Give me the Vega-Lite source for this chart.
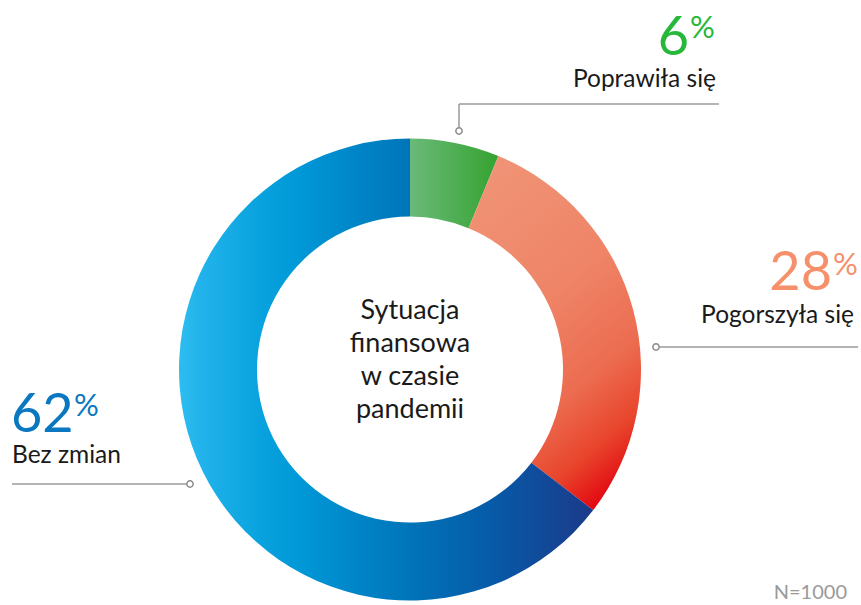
{
  "$schema": "https://vega.github.io/schema/vega-lite/v6.json",
  "width": 861,
  "height": 605,
  "padding": 0,
  "autosize": {"type": "none"},
  "background": "white",
  "config": {"view": {"stroke": null}, "font": "Lato", "text": {"font": "Lato"}},
  "data": {"values": [
    {"cat": "Poprawiła się", "value": 6},
    {"cat": "Pogorszyła się", "value": 28},
    {"cat": "Bez zmian", "value": 62}
  ]},
  "transform": [
    {"window": [{"op": "sum", "field": "value", "as": "v1"}], "frame": [null, 0]},
    {"calculate": "datum.v1 - datum.value", "as": "v0"}
  ],
  "layer": [
    {
      "transform": [{"filter": "datum.cat === 'Poprawiła się'"}],
      "mark": {"type": "arc", "radius": 231, "radius2": 153,
        "fill": {"gradient": "linear", "x1": 0, "y1": 0, "x2": 1, "y2": 0,
          "stops": [{"offset": 0, "color": "#6aba79"}, {"offset": 1, "color": "#35a330"}]}},
      "encoding": {
        "theta": {"field": "v0", "type": "quantitative", "scale": {"domain": [0, 96], "zero": true, "nice": false}},
        "theta2": {"field": "v1"},
        "x": {"datum": 410, "type": "quantitative", "scale": {"domain": [0, 861], "nice": false}, "axis": null},
        "y": {"datum": 369.5, "type": "quantitative", "scale": {"domain": [0, 605], "nice": false, "reverse": true}, "axis": null}
      }
    },
    {
      "transform": [{"filter": "datum.cat === 'Pogorszyła się'"}],
      "mark": {"type": "arc", "radius": 231, "radius2": 153,
        "fill": {"gradient": "linear", "x1": 0.3, "y1": 0, "x2": 0.7, "y2": 1,
          "stops": [{"offset": 0, "color": "#f09275"}, {"offset": 0.4, "color": "#ef8467"}, {"offset": 0.68, "color": "#ec6c50"}, {"offset": 0.86, "color": "#e8452c"}, {"offset": 1, "color": "#e30a12"}]}},
      "encoding": {
        "theta": {"field": "v0", "type": "quantitative", "scale": {"domain": [0, 96], "zero": true, "nice": false}},
        "theta2": {"field": "v1"},
        "x": {"datum": 410, "type": "quantitative", "scale": {"domain": [0, 861], "nice": false}, "axis": null},
        "y": {"datum": 369.5, "type": "quantitative", "scale": {"domain": [0, 605], "nice": false, "reverse": true}, "axis": null}
      }
    },
    {
      "transform": [{"filter": "datum.cat === 'Bez zmian'"}],
      "mark": {"type": "arc", "radius": 231, "radius2": 153,
        "fill": {"gradient": "linear", "x1": 0, "y1": 0, "x2": 1, "y2": 0,
          "stops": [{"offset": 0, "color": "#2dbdf0"}, {"offset": 0.05, "color": "#22b3eb"}, {"offset": 0.2, "color": "#08a2de"}, {"offset": 0.29, "color": "#0098d7"}, {"offset": 0.56, "color": "#0074b9"}, {"offset": 0.78, "color": "#0857a5"}, {"offset": 1, "color": "#1c3a8a"}]}},
      "encoding": {
        "theta": {"field": "v0", "type": "quantitative", "scale": {"domain": [0, 96], "zero": true, "nice": false}},
        "theta2": {"field": "v1"},
        "x": {"datum": 410, "type": "quantitative", "scale": {"domain": [0, 861], "nice": false}, "axis": null},
        "y": {"datum": 369.5, "type": "quantitative", "scale": {"domain": [0, 605], "nice": false, "reverse": true}, "axis": null}
      }
    },
    {
      "transform": [{"filter": "datum.cat === 'Bez zmian'"}],
      "mark": {"type": "text", "align": "center", "baseline": "middle", "fontSize": 27, "lineHeight": 33, "color": "#1a1a1a"},
      "encoding": {
        "text": {"value": ["Sytuacja", "finansowa", "w czasie", "pandemii"]},
        "x": {"datum": 410, "type": "quantitative", "scale": {"domain": [0, 861], "nice": false}, "axis": null},
        "y": {"datum": 311, "type": "quantitative", "scale": {"domain": [0, 605], "nice": false, "reverse": true}, "axis": null}
      }
    },
    {
      "transform": [{"filter": "datum.cat === 'Bez zmian'"}],
      "mark": {"type": "text", "align": "right", "baseline": "alphabetic", "fontSize": 20, "color": "#9a9a9a"},
      "encoding": {
        "text": {"value": "N=1000"},
        "x": {"datum": 847, "type": "quantitative", "scale": {"domain": [0, 861], "nice": false}, "axis": null},
        "y": {"datum": 599, "type": "quantitative", "scale": {"domain": [0, 605], "nice": false, "reverse": true}, "axis": null}
      }
    },
    {
      "transform": [{"filter": "datum.cat === 'Poprawiła się'"}],
      "layer": [
        {"mark": {"type": "rule", "color": "#9a9a9a", "strokeWidth": 1.5},
          "encoding": {
            "x": {"datum": 459, "type": "quantitative", "scale": {"domain": [0, 861], "nice": false}, "axis": null},
            "x2": {"datum": 719},
            "y": {"datum": 104, "type": "quantitative", "scale": {"domain": [0, 605], "nice": false, "reverse": true}, "axis": null}
          }},
        {"mark": {"type": "rule", "color": "#9a9a9a", "strokeWidth": 1.5},
          "encoding": {
            "x": {"datum": 459, "type": "quantitative", "scale": {"domain": [0, 861], "nice": false}, "axis": null},
            "y": {"datum": 104, "type": "quantitative", "scale": {"domain": [0, 605], "nice": false, "reverse": true}, "axis": null},
            "y2": {"datum": 131}
          }},
        {"mark": {"type": "point", "shape": "circle", "size": 40, "filled": true, "fill": "white", "stroke": "#8c8c8c", "strokeWidth": 1.5, "opacity": 1},
          "encoding": {
            "x": {"datum": 459, "type": "quantitative", "scale": {"domain": [0, 861], "nice": false}, "axis": null},
            "y": {"datum": 131, "type": "quantitative", "scale": {"domain": [0, 605], "nice": false, "reverse": true}, "axis": null}
          }},
        {"mark": {"type": "text", "align": "right", "baseline": "alphabetic", "fontSize": 54, "color": "#27b83b"},
          "encoding": {
            "text": {"field": "value"},
            "x": {"datum": 689, "type": "quantitative", "scale": {"domain": [0, 861], "nice": false}, "axis": null},
            "y": {"datum": 55, "type": "quantitative", "scale": {"domain": [0, 605], "nice": false, "reverse": true}, "axis": null}
          }},
        {"mark": {"type": "text", "align": "left", "baseline": "alphabetic", "fontSize": 31, "color": "#27b83b"},
          "encoding": {
            "text": {"value": "%"},
            "x": {"datum": 690, "type": "quantitative", "scale": {"domain": [0, 861], "nice": false}, "axis": null},
            "y": {"datum": 38, "type": "quantitative", "scale": {"domain": [0, 605], "nice": false, "reverse": true}, "axis": null}
          }},
        {"mark": {"type": "text", "align": "right", "baseline": "alphabetic", "fontSize": 24.5, "color": "#1a1a1a"},
          "encoding": {
            "text": {"field": "cat"},
            "x": {"datum": 716, "type": "quantitative", "scale": {"domain": [0, 861], "nice": false}, "axis": null},
            "y": {"datum": 87, "type": "quantitative", "scale": {"domain": [0, 605], "nice": false, "reverse": true}, "axis": null}
          }}
      ]
    },
    {
      "transform": [{"filter": "datum.cat === 'Pogorszyła się'"}],
      "layer": [
        {"mark": {"type": "rule", "color": "#9a9a9a", "strokeWidth": 1.5},
          "encoding": {
            "x": {"datum": 656, "type": "quantitative", "scale": {"domain": [0, 861], "nice": false}, "axis": null},
            "x2": {"datum": 858},
            "y": {"datum": 347, "type": "quantitative", "scale": {"domain": [0, 605], "nice": false, "reverse": true}, "axis": null}
          }},
        {"mark": {"type": "point", "shape": "circle", "size": 40, "filled": true, "fill": "white", "stroke": "#8c8c8c", "strokeWidth": 1.5, "opacity": 1},
          "encoding": {
            "x": {"datum": 656, "type": "quantitative", "scale": {"domain": [0, 861], "nice": false}, "axis": null},
            "y": {"datum": 347, "type": "quantitative", "scale": {"domain": [0, 605], "nice": false, "reverse": true}, "axis": null}
          }},
        {"mark": {"type": "text", "align": "right", "baseline": "alphabetic", "fontSize": 54, "color": "#f5906b"},
          "encoding": {
            "text": {"field": "value"},
            "x": {"datum": 832, "type": "quantitative", "scale": {"domain": [0, 861], "nice": false}, "axis": null},
            "y": {"datum": 290, "type": "quantitative", "scale": {"domain": [0, 605], "nice": false, "reverse": true}, "axis": null}
          }},
        {"mark": {"type": "text", "align": "left", "baseline": "alphabetic", "fontSize": 31, "color": "#f5906b"},
          "encoding": {
            "text": {"value": "%"},
            "x": {"datum": 833, "type": "quantitative", "scale": {"domain": [0, 861], "nice": false}, "axis": null},
            "y": {"datum": 275, "type": "quantitative", "scale": {"domain": [0, 605], "nice": false, "reverse": true}, "axis": null}
          }},
        {"mark": {"type": "text", "align": "right", "baseline": "alphabetic", "fontSize": 24.5, "color": "#1a1a1a"},
          "encoding": {
            "text": {"field": "cat"},
            "x": {"datum": 854, "type": "quantitative", "scale": {"domain": [0, 861], "nice": false}, "axis": null},
            "y": {"datum": 323, "type": "quantitative", "scale": {"domain": [0, 605], "nice": false, "reverse": true}, "axis": null}
          }}
      ]
    },
    {
      "transform": [{"filter": "datum.cat === 'Bez zmian'"}],
      "layer": [
        {"mark": {"type": "rule", "color": "#9a9a9a", "strokeWidth": 1.5},
          "encoding": {
            "x": {"datum": 12, "type": "quantitative", "scale": {"domain": [0, 861], "nice": false}, "axis": null},
            "x2": {"datum": 190},
            "y": {"datum": 484, "type": "quantitative", "scale": {"domain": [0, 605], "nice": false, "reverse": true}, "axis": null}
          }},
        {"mark": {"type": "point", "shape": "circle", "size": 40, "filled": true, "fill": "white", "stroke": "#8c8c8c", "strokeWidth": 1.5, "opacity": 1},
          "encoding": {
            "x": {"datum": 190, "type": "quantitative", "scale": {"domain": [0, 861], "nice": false}, "axis": null},
            "y": {"datum": 484, "type": "quantitative", "scale": {"domain": [0, 605], "nice": false, "reverse": true}, "axis": null}
          }},
        {"mark": {"type": "text", "align": "left", "baseline": "alphabetic", "fontSize": 54, "color": "#0a78c1"},
          "encoding": {
            "text": {"field": "value"},
            "x": {"datum": 11, "type": "quantitative", "scale": {"domain": [0, 861], "nice": false}, "axis": null},
            "y": {"datum": 432, "type": "quantitative", "scale": {"domain": [0, 605], "nice": false, "reverse": true}, "axis": null}
          }},
        {"mark": {"type": "text", "align": "left", "baseline": "alphabetic", "fontSize": 31, "color": "#0a78c1"},
          "encoding": {
            "text": {"value": "%"},
            "x": {"datum": 74, "type": "quantitative", "scale": {"domain": [0, 861], "nice": false}, "axis": null},
            "y": {"datum": 416, "type": "quantitative", "scale": {"domain": [0, 605], "nice": false, "reverse": true}, "axis": null}
          }},
        {"mark": {"type": "text", "align": "left", "baseline": "alphabetic", "fontSize": 24.5, "color": "#1a1a1a"},
          "encoding": {
            "text": {"field": "cat"},
            "x": {"datum": 12, "type": "quantitative", "scale": {"domain": [0, 861], "nice": false}, "axis": null},
            "y": {"datum": 463, "type": "quantitative", "scale": {"domain": [0, 605], "nice": false, "reverse": true}, "axis": null}
          }}
      ]
    }
  ]
}
